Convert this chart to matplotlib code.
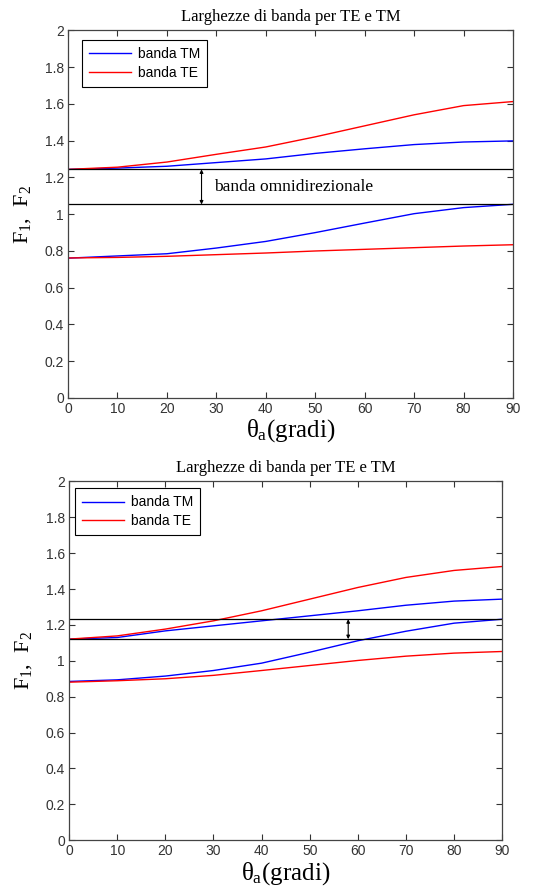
import matplotlib
matplotlib.use('Agg')
import matplotlib.pyplot as plt

plt.rcParams['mathtext.fontset'] = 'custom'
plt.rcParams['mathtext.rm'] = 'Liberation Serif'
plt.rcParams['mathtext.it'] = 'Liberation Serif'

theta = [0, 10, 20, 30, 40, 50, 60, 70, 80, 90]

# first chart
tm_hi_1 = [1.243, 1.250, 1.260, 1.280, 1.300, 1.330, 1.355, 1.378, 1.392, 1.398]
te_hi_1 = [1.243, 1.255, 1.283, 1.325, 1.365, 1.420, 1.480, 1.540, 1.590, 1.612]
tm_lo_1 = [0.760, 0.772, 0.784, 0.815, 0.851, 0.899, 0.951, 1.002, 1.035, 1.053]
te_lo_1 = [0.761, 0.764, 0.770, 0.779, 0.788, 0.799, 0.808, 0.817, 0.826, 0.833]
band_1 = [1.052, 1.243]
arrow_x_1 = 27

# second chart
tm_hi_2 = [1.121, 1.130, 1.167, 1.195, 1.223, 1.251, 1.279, 1.310, 1.333, 1.344]
te_hi_2 = [1.121, 1.139, 1.177, 1.223, 1.279, 1.344, 1.409, 1.465, 1.504, 1.526]
tm_lo_2 = [0.885, 0.894, 0.915, 0.946, 0.987, 1.048, 1.112, 1.165, 1.210, 1.232]
te_lo_2 = [0.881, 0.889, 0.900, 0.919, 0.946, 0.974, 1.002, 1.026, 1.043, 1.052]
band_2 = [1.121, 1.232]
arrow_x_2 = 58

title = 'Larghezze di banda per TE e TM'
serif = 'Liberation Serif'
sans = 'Liberation Sans'


def draw(ax, tm_hi, te_hi, tm_lo, te_lo, band, arrow_x, leg_anchor, label=None):
    ax.plot(theta, tm_hi, color='blue', lw=1, label='banda TM')
    ax.plot(theta, te_hi, color='red', lw=1, label='banda TE')
    ax.plot(theta, tm_lo, color='blue', lw=1)
    ax.plot(theta, te_lo, color='red', lw=1)
    for b in band:
        ax.axhline(b, color='black', lw=0.9)
    ax.annotate('', xy=(arrow_x, band[0]), xytext=(arrow_x, band[1]),
                arrowprops=dict(arrowstyle='<|-|>', color='black', lw=0.8,
                                mutation_scale=5, shrinkA=0, shrinkB=0))
    if label:
        ax.text(arrow_x + 2.5, (band[0] + band[1]) / 2, label, family=serif,
                fontsize=12.5, va='center')
    ax.set_xlim(0, 90)
    ax.set_ylim(0, 2)
    ax.set_xticks(range(0, 91, 10))
    ax.set_yticks([0, 0.2, 0.4, 0.6, 0.8, 1, 1.2, 1.4, 1.6, 1.8, 2])
    ax.set_yticklabels(['0', '0.2', '0.4', '0.6', '0.8', '1', '1.2', '1.4', '1.6', '1.8', '2'])
    ax.tick_params(direction='in', top=True, right=True, length=4, width=0.8,
                   labelsize=10, colors='#333333', pad=3)
    for lab in ax.get_xticklabels() + ax.get_yticklabels():
        lab.set_family(sans)
    for s in ax.spines.values():
        s.set_color('#444444')
        s.set_linewidth(0.9)
    ax.set_title(title, family=serif, fontsize=12, pad=7)
    ax.set_xlabel(r'$\theta_{\rm a}$(gradi)', family=serif, fontsize=18, labelpad=1)
    ax.set_ylabel(r'F$_1$,  F$_2$', family=serif, fontsize=16, labelpad=8)
    leg = ax.legend(loc='upper left', bbox_to_anchor=leg_anchor, borderaxespad=0,
                    prop={'family': sans, 'size': 10},
                    fancybox=False, edgecolor='black', framealpha=1,
                    handlelength=3, handletextpad=0.5, borderpad=0.5, labelspacing=0.35)
    leg.get_frame().set_linewidth(0.8)


fig = plt.figure(figsize=(5.4, 8.9), dpi=100)
ax1 = fig.add_axes([0.126, 0.553, 0.824, 0.413])
ax2 = fig.add_axes([0.128, 0.056, 0.802, 0.403])

draw(ax1, tm_hi_1, te_hi_1, tm_lo_1, te_lo_1, band_1, arrow_x_1,
     (14 / 445, 1 - 10 / 368), 'banda omnidirezionale')
draw(ax2, tm_hi_2, te_hi_2, tm_lo_2, te_lo_2, band_2, arrow_x_2,
     (6 / 433, 1 - 7 / 359))

fig.savefig('out.png', dpi=100)
